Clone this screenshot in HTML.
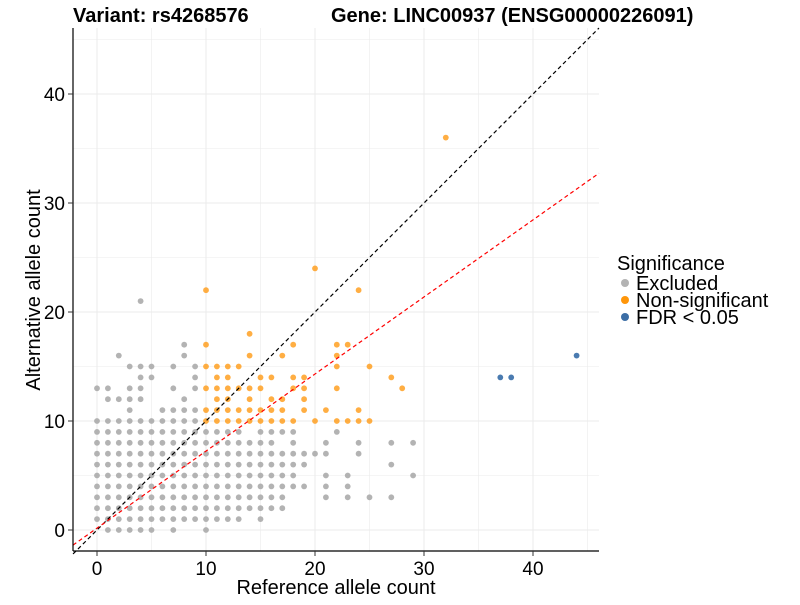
<!DOCTYPE html>
<html><head><meta charset="utf-8"><style>
body{margin:0;background:#fff}
svg text{font-family:"Liberation Sans",Arial,sans-serif}
</style></head><body>
<svg id="s" width="800" height="600" xmlns="http://www.w3.org/2000/svg">
<rect width="800" height="600" fill="#fff"/>
<g id="grid"></g>
<g id="pts"></g>
<line x1="73" y1="28" x2="73" y2="551" stroke="#000" stroke-width="1.2"/>
<line x1="73" y1="551" x2="599" y2="551" stroke="#000" stroke-width="1.2"/>
<g id="ticks"></g>
<text x="73" y="22" font-size="20" font-weight="bold">Variant: rs4268576</text>
<text x="331" y="22" font-size="20" font-weight="bold">Gene: LINC00937 (ENSG00000226091)</text>
<text x="336" y="594" font-size="20" text-anchor="middle">Reference allele count</text>
<text x="40" y="290" font-size="20" text-anchor="middle" transform="rotate(-90 40 290)">Alternative allele count</text>
<text x="617" y="270" font-size="20">Significance</text>
<circle cx="625" cy="283" r="4" fill="#b3b3b3"/><text x="636" y="290" font-size="20">Excluded</text>
<circle cx="625" cy="300" r="4" fill="#ff960a"/><text x="636" y="307" font-size="20">Non-significant</text>
<circle cx="625" cy="317" r="4" fill="#3c6ea5"/><text x="636" y="324" font-size="20">FDR &lt; 0.05</text>
</svg>
<script>
var X=function(v){return 97+v*10.9},Y=function(v){return 530-v*10.9};
var NS="http://www.w3.org/2000/svg";
function el(p,t,a){var e=document.createElementNS(NS,t);for(var k in a)e.setAttribute(k,a[k]);document.getElementById(p).appendChild(e);return e;}
for(var v=0;v<=45;v+=5){var mj=v%10==0;
 el('grid','line',{x1:X(v),x2:X(v),y1:28,y2:551,stroke:'#ebebeb','stroke-width':mj?1:0.6});
 if(Y(v)>28)el('grid','line',{x1:73,x2:599,y1:Y(v),y2:Y(v),stroke:'#ebebeb','stroke-width':mj?1:0.6});
 if(mj){el('ticks','line',{x1:X(v),x2:X(v),y1:551,y2:556,stroke:'#333'});
 el('ticks','line',{x1:68,x2:73,y1:Y(v),y2:Y(v),stroke:'#333'});
 var t=el('ticks','text',{x:X(v),y:575,'font-size':19,'text-anchor':'middle'});t.textContent=v;
 t=el('ticks','text',{x:65,y:Y(v)+7,'font-size':19,'text-anchor':'end'});t.textContent=v;}}
function rng(a,b){var r=[];for(var i=a;i<=b;i++)r.push(i);return r}
var gray={0:[1,2,3,4,5,7,10],1:rng(0,13).concat([15]),2:rng(0,17),3:rng(0,17).concat([21,23,25,27]),
4:rng(0,19).concat([21,23]),5:rng(0,18).concat([21,23,29]),6:rng(0,19).concat([27]),7:rng(0,21).concat([24]),
8:rng(0,16).concat([18,21,24,27,29]),9:rng(0,13).concat([15,16,17,18,22]),10:rng(0,9),
11:[3,6,7,8,9],12:[1,2,3,4,8],13:[0,1,3,4,7,9],14:[4,5,9],15:[3,4,5,7,9],16:[2,8],17:[8],21:[4]};
var orange={10:rng(10,18).concat([20,22,23,24,25]),11:rng(10,17).concat([19,21,24]),12:[11,12,14,16,17,19],
13:[10,11,12,13,14,15,18,19,22,28],14:[11,12,15,16,18,19,27],15:[10,11,12,13,22,25],16:[14,17,22],
17:[10,18,22,23],18:[14],22:[10,24],24:[20],36:[32]};
function draw(d,c,op){for(var y in d)d[y].forEach(function(x){el('pts','circle',{cx:X(x),cy:Y(+y),r:2.9,fill:c,'fill-opacity':op})});}
draw(gray,'#a6a6a6',0.85);draw(orange,'#ff9a14',0.8);
[[37,14],[38,14],[44,16]].forEach(function(p){el('pts','circle',{cx:X(p[0]),cy:Y(p[1]),r:2.9,fill:'#4a7bb0'})});
el('pts','line',{x1:X(-2.2),y1:Y(-2.2),x2:X(46.05),y2:Y(46.05),stroke:'#000','stroke-width':1.2,'stroke-dasharray':'4,3'});
el('pts','line',{x1:X(-2.2),y1:Y(0.17-0.707*2.2),x2:X(46.05),y2:Y(0.17+0.707*46.05),stroke:'#ff0000','stroke-width':1.2,'stroke-dasharray':'4,3'});
</script>
</body></html>
